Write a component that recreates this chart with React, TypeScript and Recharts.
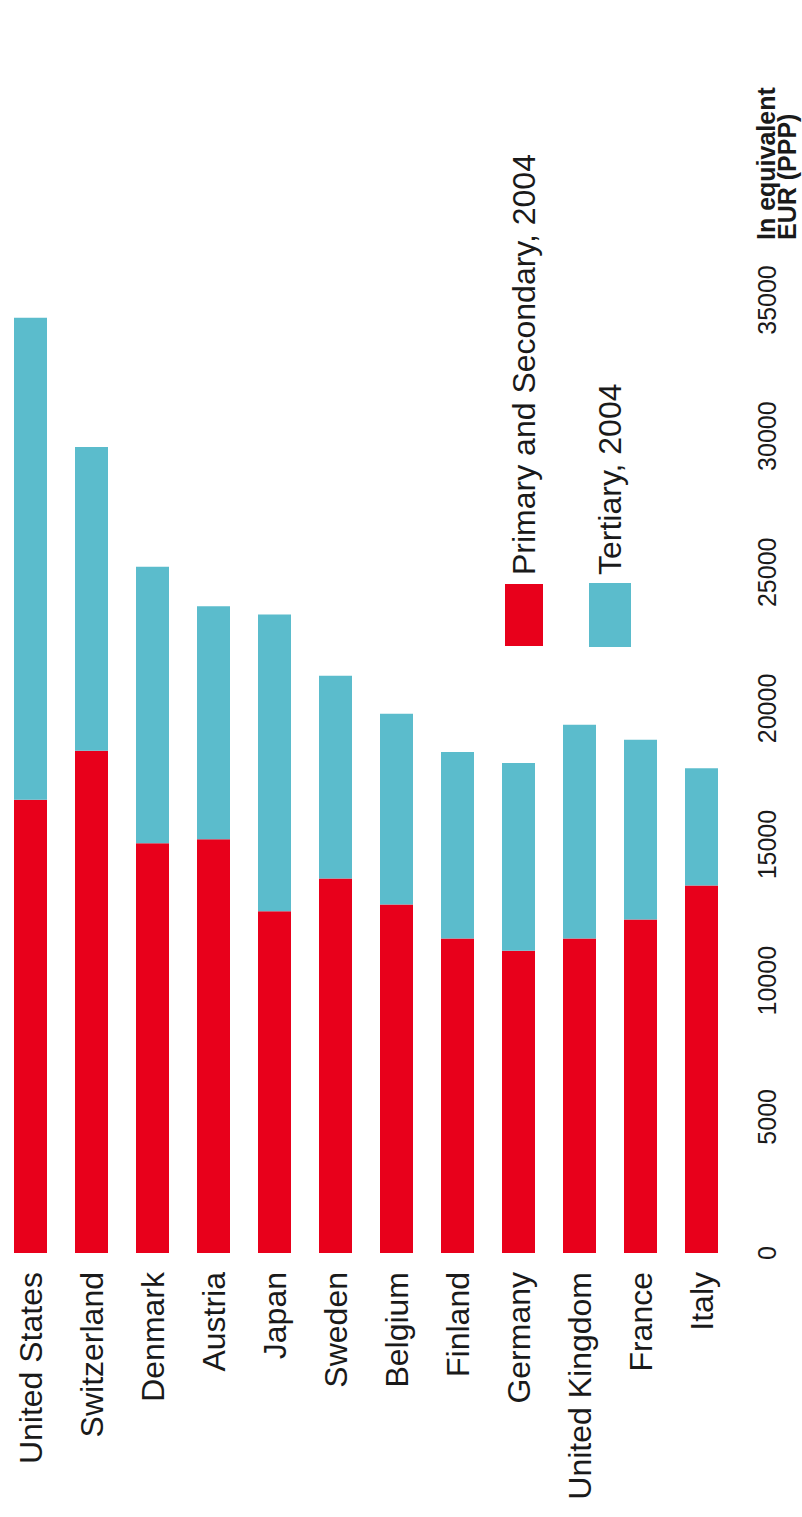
import React from 'react';
import { BarChart, Bar, XAxis, YAxis } from 'recharts';

const countries = [
  'United States', 'Switzerland', 'Denmark', 'Austria', 'Japan', 'Sweden',
  'Belgium', 'Finland', 'Germany', 'United Kingdom', 'France', 'Italy',
];
// primary and secondary spending per student, 2004
const primarySecondary = [16650, 18450, 15050, 15200, 12550, 13750, 12800, 11550, 11100, 11550, 12250, 13500];
// tertiary, stacked on top
const tertiary = [17700, 11150, 10150, 8550, 10900, 7450, 7000, 6850, 6900, 7850, 6600, 4300];
const valueTicks = [0, 5000, 10000, 15000, 20000, 25000, 30000, 35000];

const RED = '#E8001B';
const TEAL = '#5BBCCC';
const FONT = '"Liberation Sans", Arial, Helvetica, sans-serif';

const data = countries.map((c, i) => ({
  country: c,
  primary: primarySecondary[i],
  tertiary: tertiary[i],
}));

// the chart is drawn unrotated (1517 x 802) and turned -90deg into the 802 x 1517 page
const W = 1517;
const H = 802;

const legendItems = [
  { label: 'Primary and Secondary, 2004', color: RED, left: 871, top: 505, w: 62, h: 38 },
  { label: 'Tertiary, 2004', color: TEAL, left: 870, top: 589, w: 64, h: 42 },
];

const LegendBox = () => (
  <>
    {legendItems.map((it) => (
      <div key={it.label}>
        <div style={{ position: 'absolute', left: it.left, top: it.top, width: it.w, height: it.h, background: it.color }} />
        <div
          style={{
            position: 'absolute',
            left: 942,
            top: it.top + it.h / 2 - 19,
            height: 38,
            lineHeight: '38px',
            fontSize: 32,
            fontFamily: FONT,
            color: '#1a1a1a',
            whiteSpace: 'nowrap',
          }}
        >
          {it.label}
        </div>
      </div>
    ))}
  </>
);

export default function App() {
  return (
    <div style={{ position: 'absolute', left: 0, top: 0, width: 802, height: 1517, overflow: 'hidden', background: '#fff' }}>
      <div
        style={{
          position: 'absolute',
          left: 0,
          top: 0,
          width: W,
          height: H,
          transformOrigin: '0 0',
          transform: `translateY(${W}px) rotate(-90deg)`,
        }}
      >
        <BarChart
          layout="vertical"
          width={W}
          height={H}
          data={data}
          margin={{ top: 0, right: 300, bottom: 0, left: 0 }}
          barSize={33}
        >
          <YAxis
            type="category"
            dataKey="country"
            width={264}
            axisLine={false}
            tickLine={false}
            tickSize={0}
            tickMargin={19}
            interval={0}
            tick={{ fontSize: 32, fill: '#1a1a1a', fontFamily: FONT }}
          />
          <XAxis
            type="number"
            domain={[0, 35000]}
            ticks={valueTicks}
            height={70}
            axisLine={false}
            tickLine={false}
            tickSize={0}
            tickMargin={26}
            interval={0}
            tick={{ fontSize: 25, fill: '#1a1a1a', fontFamily: FONT }}
          />
          <Bar dataKey="primary" stackId="a" fill={RED} isAnimationActive={false} />
          <Bar dataKey="tertiary" stackId="a" fill={TEAL} isAnimationActive={false} />
        </BarChart>
        <LegendBox />
        <div
          style={{
            position: 'absolute',
            left: 1277,
            top: 756,
            fontFamily: FONT,
            fontWeight: 'bold',
            fontSize: 25,
            lineHeight: '21px',
            color: '#1a1a1a',
            whiteSpace: 'nowrap',
          }}
        >
          <div>In equivalent</div>
          <div>EUR (PPP)</div>
        </div>
      </div>
    </div>
  );
}
